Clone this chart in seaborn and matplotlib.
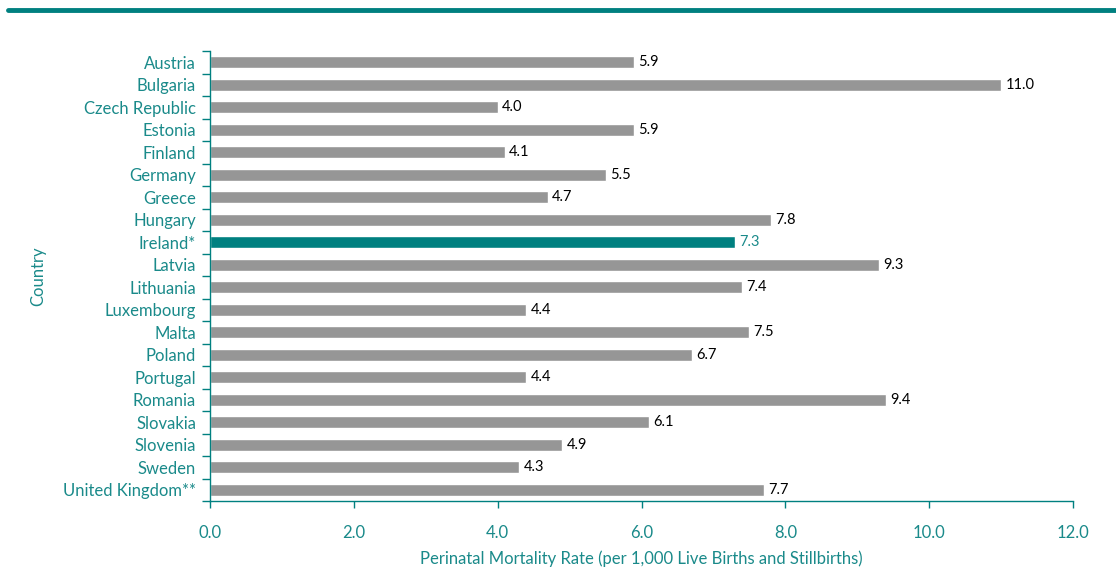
import matplotlib
matplotlib.use("Agg")
import matplotlib.pyplot as plt
import seaborn as sns
import pandas as pd
import numpy as np
from matplotlib.lines import Line2D

countries = ['Austria', 'Bulgaria', 'Czech Republic', 'Estonia', 'Finland', 'Germany',
             'Greece', 'Hungary', 'Ireland*', 'Latvia', 'Lithuania', 'Luxembourg',
             'Malta', 'Poland', 'Portugal', 'Romania', 'Slovakia', 'Slovenia',
             'Sweden', 'United Kingdom**']
rates = [5.9, 11.0, 4.0, 5.9, 4.1, 5.5, 4.7, 7.8, 7.3, 9.3, 7.4, 4.4,
         7.5, 6.7, 4.4, 9.4, 6.1, 4.9, 4.3, 7.7]
highlight = 'Ireland*'

teal = '#008080'
text_teal = '#1a8a8a'
grey = '#969696'

sns.set_style('white')
plt.rcParams['font.family'] = ['Lato', 'DejaVu Sans']
plt.rcParams['font.size'] = 11

df = pd.DataFrame({'Country': countries, 'Rate': rates})
palette = {c: (teal if c == highlight else grey) for c in countries}

fig = plt.figure(figsize=(11.16, 5.7), dpi=100)
ax = fig.add_axes([0.1882, 0.121, 0.9615 - 0.1882, 0.9105 - 0.121])

sns.barplot(data=df, x='Rate', y='Country', hue='Country', palette=palette,
            order=countries, width=0.55, legend=False, ax=ax, saturation=1)

for container, c in zip(ax.containers, countries):
    col = text_teal if c == highlight else 'black'
    ax.bar_label(container, fmt='%.1f', padding=3, color=col, fontsize=10.5)

ax.set_xlim(0, 12)
ax.set_ylim(len(countries) - 0.5, -0.5)
ticks = np.arange(0, 12.1, 2)
ax.set_xticks(ticks)
ax.set_xticklabels([f'{v:.1f}' for v in ticks], color=text_teal, fontsize=12)
ax.tick_params(axis='x', bottom=True, length=5, width=1, color=teal, direction='out', pad=12)
ax.tick_params(axis='y', which='major', left=False, length=0, pad=10,
               labelsize=12, labelcolor=text_teal)
ax.set_yticks(np.arange(-0.5, len(countries)), minor=True)
ax.tick_params(axis='y', which='minor', left=True, length=6, width=1, color=teal, direction='out')

for side in ['top', 'right']:
    ax.spines[side].set_visible(False)
for side in ['left', 'bottom']:
    ax.spines[side].set_color(teal)
    ax.spines[side].set_linewidth(1)

ax.set_xlabel('Perinatal Mortality Rate (per 1,000 Live Births and Stillbirths)',
              color=text_teal, fontsize=12, labelpad=7)
ax.set_ylabel('Country', color=text_teal, fontsize=12, labelpad=12)
ax.grid(False)

fig.add_artist(Line2D([8 / 1116, 1], [1 - 9.5 / 570] * 2, color=teal, linewidth=3.5,
                      transform=fig.transFigure))

fig.savefig('out.png', dpi=100)
